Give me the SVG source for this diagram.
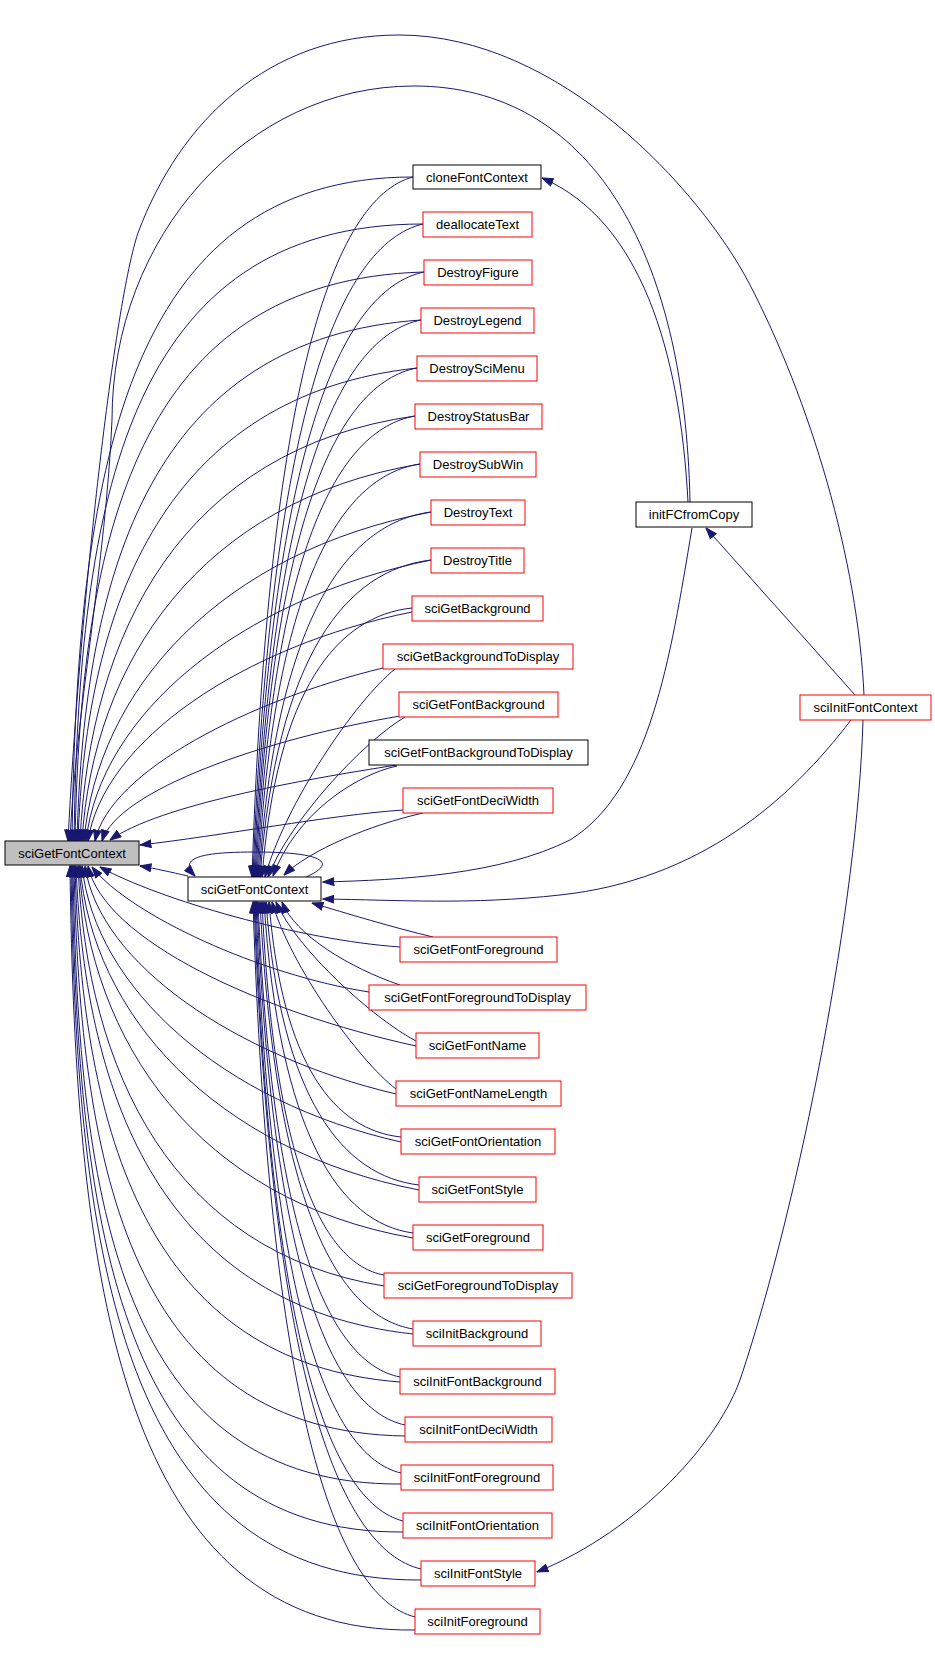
<svg xmlns="http://www.w3.org/2000/svg" width="935" height="1661" viewBox="0 0 935 1661">
<defs>
<marker id="a" markerUnits="userSpaceOnUse" markerWidth="12" markerHeight="9" viewBox="0 0 11 8" refX="10.5" refY="4" orient="auto">
<path d="M0.5,0.5 L10.5,4 L0.5,7.5 z" fill="#191970" stroke="#191970" stroke-width="1"/>
</marker>
<style>
.e{fill:none;stroke:#191970;stroke-width:1;marker-end:url(#a)}
.b{fill:#ffffff;stroke:#000000;stroke-width:1}
.r{fill:#ffffff;stroke:#ff0000;stroke-width:1}
.g{fill:#bfbfbf;stroke:#000000;stroke-width:1}
text{font-family:"Liberation Sans",Arial,sans-serif;font-size:13px;fill:#000000;text-anchor:middle}
</style>
</defs>
<rect width="935" height="1661" fill="#ffffff"/>
<g id="edges">
<path class="e" d="M413,177 C123,177 77,476 72,841"/>
<path class="e" d="M423,224 C126,224 79,502 74,841"/>
<path class="e" d="M424,272 C137,280 81,534 75,841"/>
<path class="e" d="M421,320 C153,338 84,568 77,841"/>
<path class="e" d="M417,368 C167,395 86,601 78,841"/>
<path class="e" d="M415,416 C182,449 90,632 80,841"/>
<path class="e" d="M420,464 C200,501 93,662 82,841"/>
<path class="e" d="M431,512 C220,552 97,690 84,841"/>
<path class="e" d="M431,560 C236,600 100,716 86,841"/>
<path class="e" d="M412,612 C243,646 103,741 88,841"/>
<path class="e" d="M383,668 C250,700 110,771 95,841"/>
<path class="e" d="M400,716 C265,739 118,790 102,841"/>
<path class="e" d="M397,765 C300,780 160,805 110,840"/>
<path class="e" d="M403,810 C330,815 220,836 140,845"/>
<path class="e" d="M400,947 C300,940 160,900 100,867"/>
<path class="e" d="M369,992 C260,975 130,915 92,867"/>
<path class="e" d="M416,1046 C260,1012 104,940 88,866"/>
<path class="e" d="M396,1094 C235,1056 99,963 85,866"/>
<path class="e" d="M401,1142 C222,1102 95,988 82,866"/>
<path class="e" d="M419,1190 C214,1150 92,1014 80,866"/>
<path class="e" d="M413,1238 C197,1200 90,1042 79,866"/>
<path class="e" d="M384,1286 C173,1252 87,1072 78,866"/>
<path class="e" d="M413,1334 C166,1307 85,1103 76,866"/>
<path class="e" d="M400,1382 C148,1363 82,1135 75,866"/>
<path class="e" d="M405,1436 C133,1432 80,1174 74,866"/>
<path class="e" d="M401,1484 C122,1486 78,1206 73,866"/>
<path class="e" d="M403,1532 C122,1534 77,1232 72,866"/>
<path class="e" d="M421,1580 C123,1582 76,1259 71,866"/>
<path class="e" d="M415,1630 C122,1634 75,1286 70,866"/>
<path class="e" d="M413,177 C333,198 268,387 252,877"/>
<path class="e" d="M423,224 C338,244 270,420 253,877"/>
<path class="e" d="M424,272 C339,290 271,454 254,877"/>
<path class="e" d="M421,320 C338,337 272,487 255,877"/>
<path class="e" d="M417,368 C337,383 272,521 256,877"/>
<path class="e" d="M415,416 C336,430 273,554 257,877"/>
<path class="e" d="M420,464 C339,476 274,588 258,877"/>
<path class="e" d="M431,512 C345,523 276,622 259,877"/>
<path class="e" d="M431,560 C346,570 277,655 260,877"/>
<path class="e" d="M412,608 C337,616 277,689 262,877"/>
<path class="e" d="M395,669 C356,700 285,804 265,877"/>
<path class="e" d="M405,717 C364,741 289,821 268,877"/>
<path class="e" d="M397,766 C355,775 295,815 273,876"/>
<path class="e" d="M423,813 C370,825 310,850 284,875"/>
<path class="e" d="M433,937 C395,928 345,913 312,903"/>
<path class="e" d="M400,985 C350,968 295,935 282,902"/>
<path class="e" d="M416,1041 C374,1019 297,950 276,902"/>
<path class="e" d="M396,1089 C359,1061 291,967 272,902"/>
<path class="e" d="M401,1137 C335,1130 282,1066 269,902"/>
<path class="e" d="M419,1185 C343,1176 281,1100 266,902"/>
<path class="e" d="M413,1233 C339,1223 279,1133 264,902"/>
<path class="e" d="M384,1275 C323,1264 274,1163 262,902"/>
<path class="e" d="M413,1329 C336,1316 275,1201 260,902"/>
<path class="e" d="M400,1377 C329,1363 272,1234 258,902"/>
<path class="e" d="M405,1425 C331,1409 272,1268 257,902"/>
<path class="e" d="M401,1473 C328,1456 270,1301 256,902"/>
<path class="e" d="M403,1521 C329,1502 270,1335 255,902"/>
<path class="e" d="M421,1569 C337,1549 271,1369 254,902"/>
<path class="e" d="M415,1617 C334,1596 269,1402 253,902"/>
<path class="e" d="M188,876 C170,872 158,869 140,866"/>
<path class="e" d="M306,877 C340,862 320,852 255,852 C200,852 178,858 195,876"/>
<path class="e" d="M688,502 C680,350 640,220 542,178"/>
<path class="e" d="M690,502 C685,250 590,86 414,86 C247,86 112,236 112,420 C106,560 75,720 70,841"/>
<path class="e" d="M864,695 C858,560 810,400 749,283 C700,190 560,35 399,35 C270,35 180,120 138,233 C115,300 80,600 68,841"/>
<path class="e" d="M692,528 C670,660 650,790 570,840 C500,875 400,880 323,882"/>
<path class="e" d="M851,720 C790,800 700,880 560,895 C470,905 400,900 323,899"/>
<path class="e" d="M855,695 L706,528"/>
<path class="e" d="M863,720 C858,900 800,1200 741,1377 C720,1440 640,1530 537,1572"/>
</g>
<g id="n_sciGetFontContext_L"><rect class="g" x="5" y="841" width="134" height="24"/><text x="72" y="858">sciGetFontContext</text></g>
<g id="n_sciGetFontContext_R"><rect class="b" x="188" y="877" width="133" height="24"/><text x="254.5" y="894">sciGetFontContext</text></g>
<g id="n_cloneFontContext"><rect class="b" x="413" y="165" width="128" height="24"/><text x="477" y="182">cloneFontContext</text></g>
<g id="n_deallocateText"><rect class="r" x="423" y="212" width="109" height="25"/><text x="477.5" y="229">deallocateText</text></g>
<g id="n_DestroyFigure"><rect class="r" x="424" y="260" width="108" height="25"/><text x="478" y="277">DestroyFigure</text></g>
<g id="n_DestroyLegend"><rect class="r" x="421" y="308" width="113" height="25"/><text x="477.5" y="325">DestroyLegend</text></g>
<g id="n_DestroySciMenu"><rect class="r" x="417" y="356" width="120" height="25"/><text x="477" y="373">DestroySciMenu</text></g>
<g id="n_DestroyStatusBar"><rect class="r" x="415" y="404" width="127" height="25"/><text x="478.5" y="421">DestroyStatusBar</text></g>
<g id="n_DestroySubWin"><rect class="r" x="420" y="452" width="116" height="25"/><text x="478" y="469">DestroySubWin</text></g>
<g id="n_DestroyText"><rect class="r" x="431" y="500" width="94" height="25"/><text x="478" y="517">DestroyText</text></g>
<g id="n_DestroyTitle"><rect class="r" x="431" y="548" width="93" height="25"/><text x="477.5" y="565">DestroyTitle</text></g>
<g id="n_sciGetBackground"><rect class="r" x="412" y="596" width="131" height="25"/><text x="477.5" y="613">sciGetBackground</text></g>
<g id="n_sciGetBackgroundToDisplay"><rect class="r" x="383" y="644" width="190" height="25"/><text x="478" y="661">sciGetBackgroundToDisplay</text></g>
<g id="n_sciGetFontBackground"><rect class="r" x="399" y="692" width="159" height="25"/><text x="478.5" y="709">sciGetFontBackground</text></g>
<g id="n_sciGetFontBackgroundToDisplay"><rect class="b" x="369" y="740" width="219" height="25"/><text x="478.5" y="757">sciGetFontBackgroundToDisplay</text></g>
<g id="n_sciGetFontDeciWidth"><rect class="r" x="403" y="788" width="150" height="25"/><text x="478" y="805">sciGetFontDeciWidth</text></g>
<g id="n_sciGetFontForeground"><rect class="r" x="400" y="937" width="157" height="25"/><text x="478.5" y="954">sciGetFontForeground</text></g>
<g id="n_sciGetFontForegroundToDisplay"><rect class="r" x="369" y="985" width="217" height="25"/><text x="477.5" y="1002">sciGetFontForegroundToDisplay</text></g>
<g id="n_sciGetFontName"><rect class="r" x="416" y="1033" width="123" height="25"/><text x="477.5" y="1050">sciGetFontName</text></g>
<g id="n_sciGetFontNameLength"><rect class="r" x="396" y="1081" width="165" height="25"/><text x="478.5" y="1098">sciGetFontNameLength</text></g>
<g id="n_sciGetFontOrientation"><rect class="r" x="401" y="1129" width="154" height="25"/><text x="478" y="1146">sciGetFontOrientation</text></g>
<g id="n_sciGetFontStyle"><rect class="r" x="419" y="1177" width="117" height="25"/><text x="477.5" y="1194">sciGetFontStyle</text></g>
<g id="n_sciGetForeground"><rect class="r" x="413" y="1225" width="130" height="25"/><text x="478" y="1242">sciGetForeground</text></g>
<g id="n_sciGetForegroundToDisplay"><rect class="r" x="384" y="1273" width="188" height="25"/><text x="478" y="1290">sciGetForegroundToDisplay</text></g>
<g id="n_sciInitBackground"><rect class="r" x="413" y="1321" width="128" height="25"/><text x="477" y="1338">sciInitBackground</text></g>
<g id="n_sciInitFontBackground"><rect class="r" x="400" y="1369" width="155" height="25"/><text x="477.5" y="1386">sciInitFontBackground</text></g>
<g id="n_sciInitFontDeciWidth"><rect class="r" x="405" y="1417" width="147" height="25"/><text x="478.5" y="1434">sciInitFontDeciWidth</text></g>
<g id="n_sciInitFontForeground"><rect class="r" x="401" y="1465" width="152" height="25"/><text x="477" y="1482">sciInitFontForeground</text></g>
<g id="n_sciInitFontOrientation"><rect class="r" x="403" y="1513" width="149" height="25"/><text x="477.5" y="1530">sciInitFontOrientation</text></g>
<g id="n_sciInitFontStyle"><rect class="r" x="421" y="1561" width="114" height="25"/><text x="478" y="1578">sciInitFontStyle</text></g>
<g id="n_sciInitForeground"><rect class="r" x="415" y="1609" width="125" height="25"/><text x="477.5" y="1626">sciInitForeground</text></g>
<g id="n_initFCfromCopy"><rect class="b" x="636" y="502" width="116" height="25"/><text x="694" y="519">initFCfromCopy</text></g>
<g id="n_sciInitFontContext"><rect class="r" x="800" y="695" width="131" height="25"/><text x="865.5" y="712">sciInitFontContext</text></g>
</svg>
